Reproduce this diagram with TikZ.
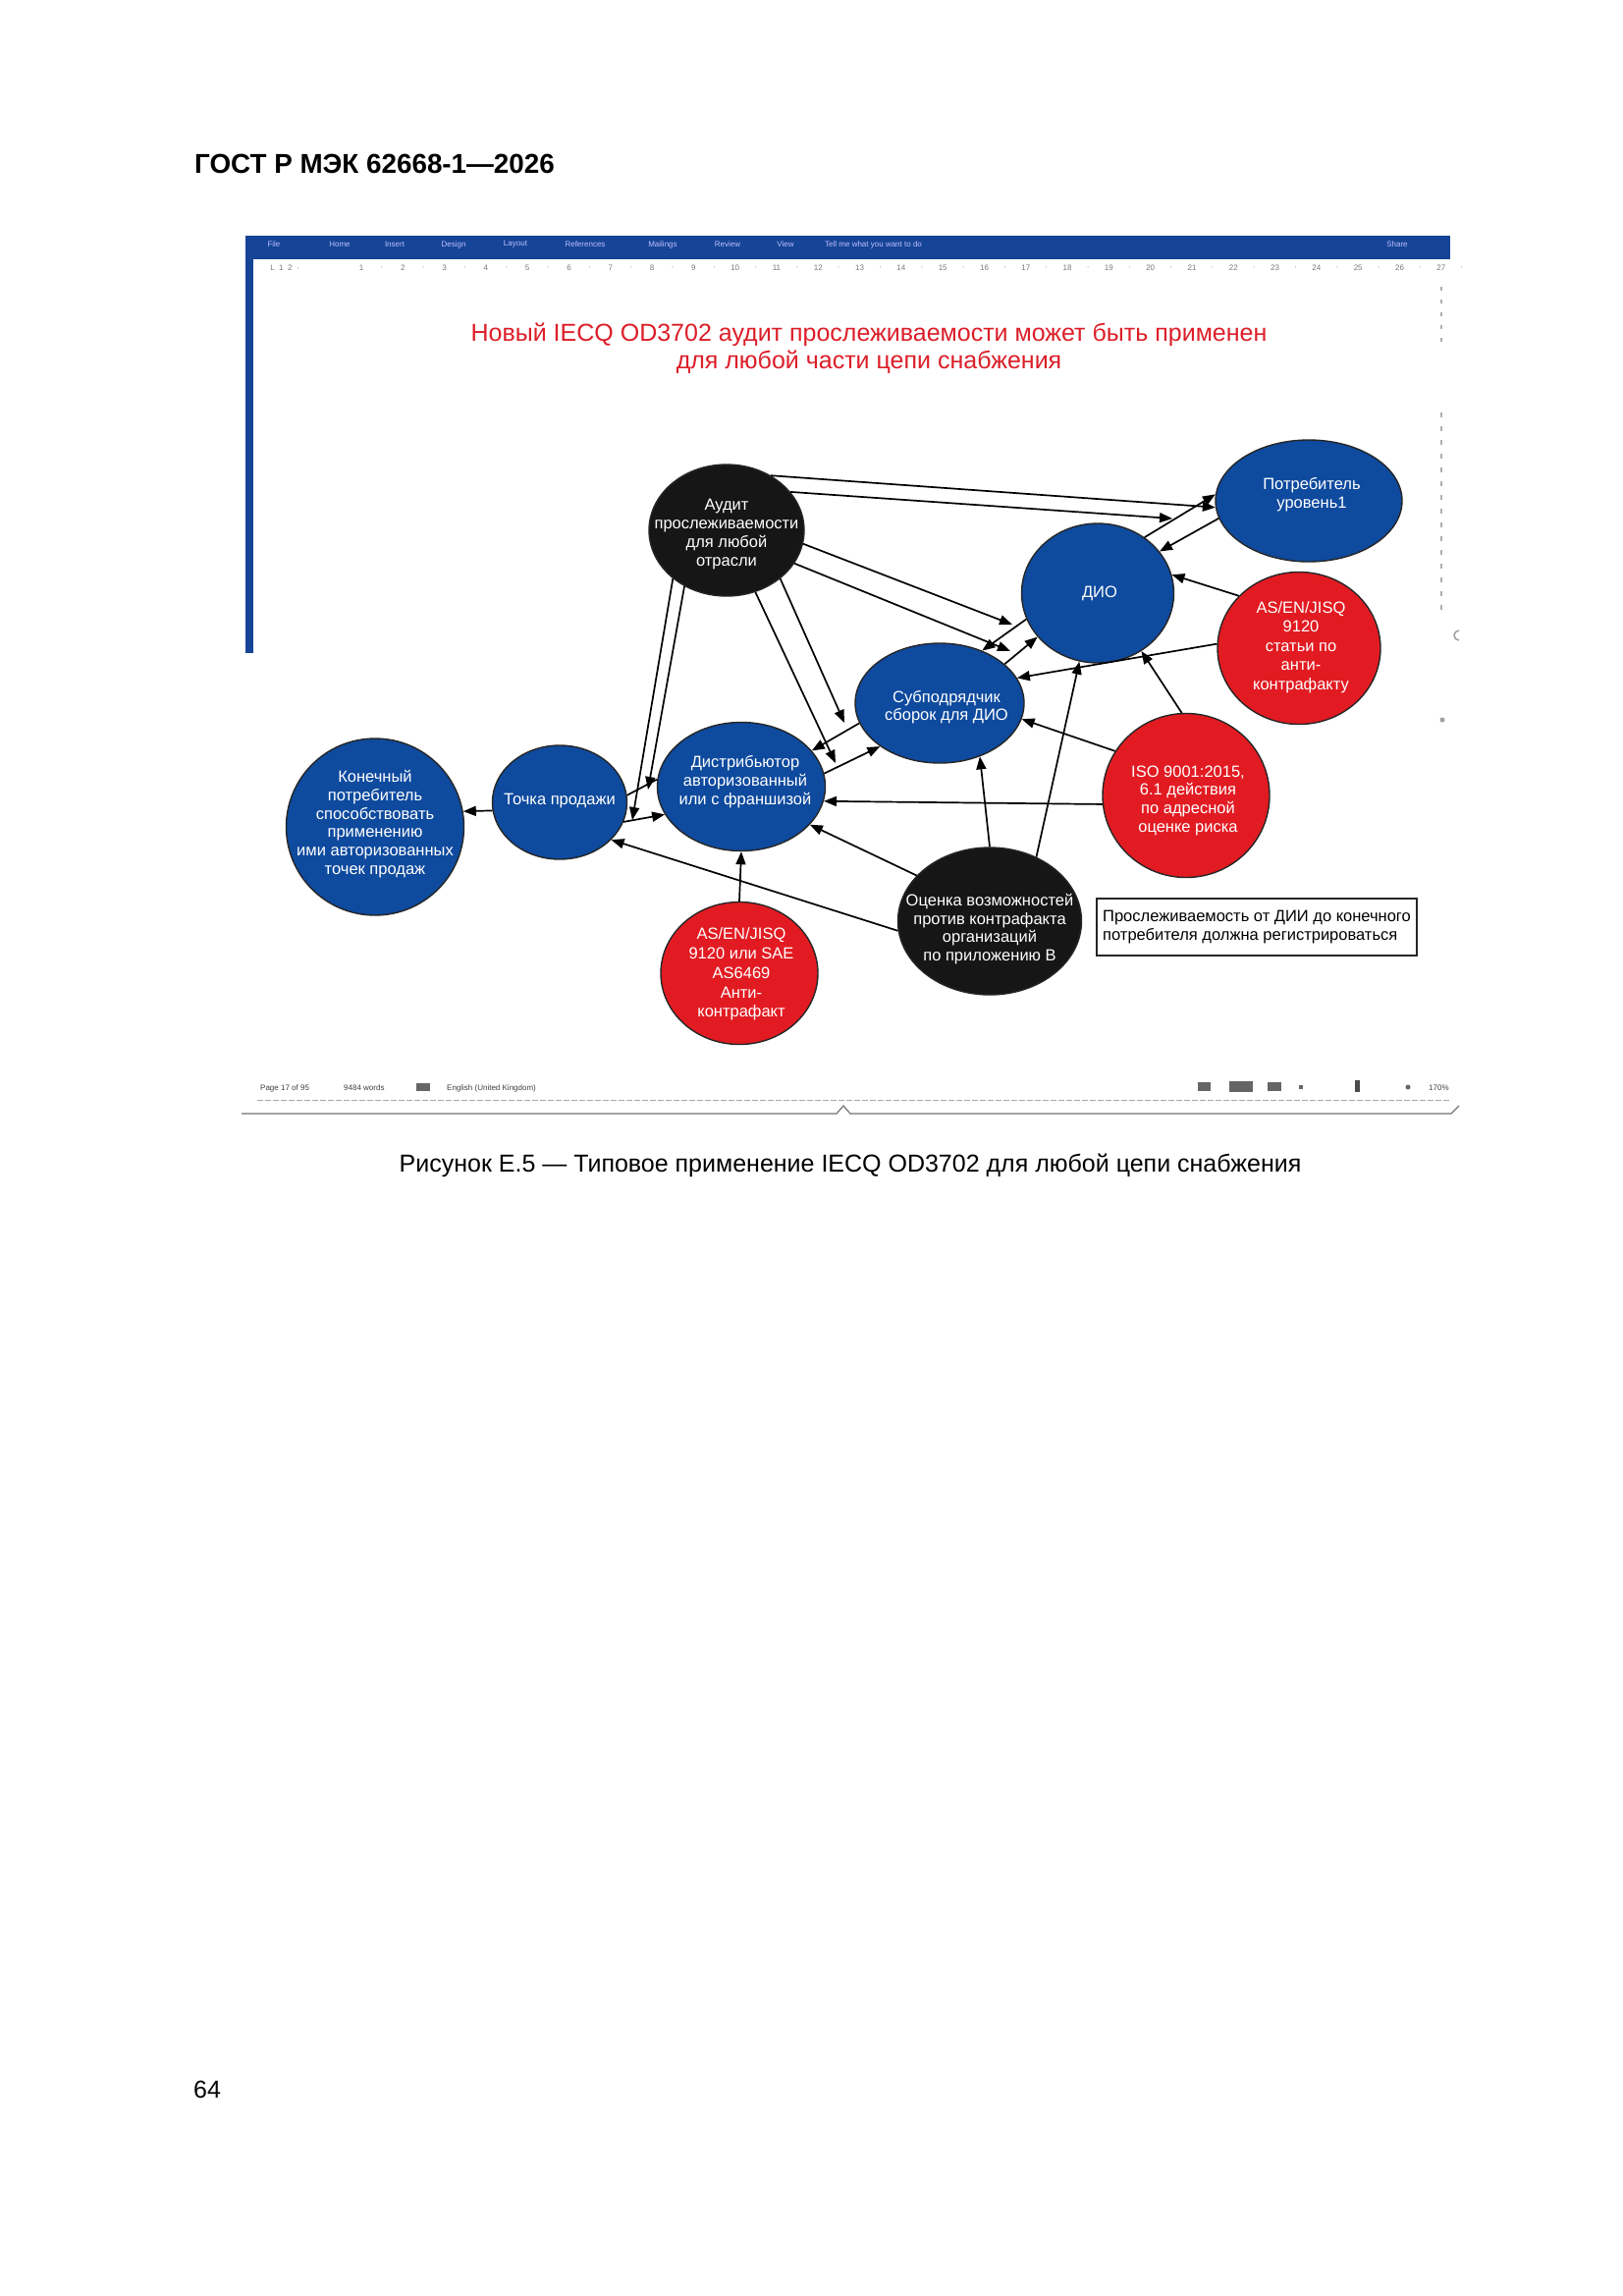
\documentclass[tikz,border=0pt]{standalone}
\usepackage{fontspec}
\setmainfont{Liberation Sans}
\usetikzlibrary{shapes.geometric,arrows.meta}
\definecolor{nodeblue}{RGB}{14,74,158}
\definecolor{nodered}{RGB}{226,27,34}
\definecolor{nodeblack}{RGB}{22,22,22}
\definecolor{titlered}{RGB}{220,30,40}
\definecolor{wordblue}{RGB}{22,68,150}
\definecolor{rulgray}{RGB}{120,120,120}
\tikzset{
  bubble/.style={ellipse, draw=black!85, line width=1.4pt, inner sep=0pt},
  bluenode/.style={bubble, fill=nodeblue},
  rednode/.style={bubble, fill=nodered},
  blacknode/.style={bubble, fill=nodeblack},
  lbl/.style={text=white, align=center, inner sep=0pt, font=\fontsize{16.5}{18.7}\selectfont},
  conn/.style={line width=1.7pt, -{Triangle[length=13pt,width=10pt]}},
  plainconn/.style={line width=1.7pt},
  menu/.style={text=blue!25!white, inner sep=0pt, font=\fontsize{8}{9}\selectfont},
  rul/.style={text=rulgray, inner sep=0pt, font=\fontsize{8}{9}\selectfont},
  stat/.style={text=black!75, inner sep=0pt, anchor=base west, font=\fontsize{8}{9}\selectfont},
}
\begin{document}
\begin{tikzpicture}[x=1pt,y=-1pt]
\useasboundingbox (0,0) rectangle (1653,2338);
\fill[white] (0,0) rectangle (1653,2338);

% page header, caption, page number
\node[anchor=base west, inner sep=0pt, font=\bfseries\fontsize{27.8}{32}\selectfont] (hdr) at (198,176) {ГОСТ Р МЭК 62668-1—2026};
\node[anchor=base, inner sep=0pt, font=\fontsize{25}{30}\selectfont] (caption) at (866,1193) {Рисунок Е.5 — Типовое применение IECQ OD3702 для любой цепи снабжения};
\node[anchor=base west, inner sep=0pt, font=\fontsize{25}{30}\selectfont] (pagenum) at (197,2136) {64};

% Word window frame
\fill[wordblue] (250,240) rectangle (1477,264);
\fill[wordblue] (250,240) rectangle (258,665);
\node[menu] (m1) at (279,249) {File};
\node[menu] (m2) at (346,249) {Home};
\node[menu] (m3) at (402,249) {Insert};
\node[menu] (m4) at (462,249) {Design};
\node[menu] (m5) at (525,249) {Layout};
\node[menu] (m6) at (596,249) {References};
\node[menu] (m7) at (675,249) {Mailings};
\node[menu] (m8) at (741,249) {Review};
\node[menu] (m9) at (800,249) {View};
\node[menu, anchor=west] (m10) at (840,249) {Tell me what you want to do};
\node[menu] (m11) at (1423,249) {Share};
\node[rul] (r0) at (290,273) {L \ 1 \ 2 \ ·};
\foreach \k in {1,...,27} {
  \node[rul] (r\k) at ({368+42.3*(\k-1)},273) {\k};
  \node[rul] (d\k) at ({368+42.3*(\k-1)+21},273) {·};
}
\draw[rulgray!60, line width=2pt, dash pattern=on 4pt off 9pt] (1468,292) -- (1468,352);
\draw[rulgray!60, line width=2pt, dash pattern=on 5pt off 9pt] (1468,420) -- (1468,622);
\draw[rulgray!70, line width=1.5pt] (1486,652) arc[start angle=90, end angle=270, radius=5];
\fill[rulgray!70] (1469,733) circle (2.5);

% status bar
\node[stat] (s1) at (265,1110) {Page 17 of 95};
\node[stat] (s2) at (350,1110) {9484 words};
\node[stat] (s3) at (455,1110) {English (United Kingdom)};
\fill[black!60] (424,1103) rectangle (438,1111);
\fill[black!60] (1220,1102) rectangle (1233,1111);
\fill[black!60] (1252,1101) rectangle (1276,1112);
\fill[black!60] (1291,1102) rectangle (1305,1111);
\fill[black!60] (1323,1105) rectangle (1327,1109);
\fill[black!70] (1380,1100) rectangle (1385,1112);
\fill[black!60] (1434,1107) circle (2.5);
\node[stat] (s4) at (1455,1110) {170\%};
\draw[black!35, line width=0.8pt, dash pattern=on 6pt off 2pt] (262,1120) -- (1478,1120);
\draw[black!55, line width=1.2pt] (246,1134) -- (852,1134) -- (859,1126) -- (866,1134) -- (1478,1134) -- (1486,1126);

% title
\node[text=titlered, inner sep=0pt, anchor=base, font=\fontsize{25}{28}\selectfont] (title1) at (885,347.5) {Новый IECQ OD3702 аудит прослеживаемости может быть применен};
\node[text=titlered, inner sep=0pt, anchor=base, font=\fontsize{25}{28}\selectfont] (title2) at (885,375.5) {для любой части цепи снабжения};

% bubbles
\node[blacknode, minimum width=158pt, minimum height=134pt] (audit) at (740,540) {};
\node[bluenode, minimum width=190pt, minimum height=124pt] (potr) at (1333,510) {};
\node[bluenode, minimum width=155pt, minimum height=142pt] (dio) at (1118,604) {};
\node[rednode, minimum width=166pt, minimum height=155pt] (asr) at (1323,660) {};
\node[bluenode, minimum width=172pt, minimum height=122pt] (sub) at (957,716) {};
\node[rednode, minimum width=170pt, minimum height=167pt] (iso) at (1208,810) {};
\node[bluenode, minimum width=171pt, minimum height=131pt] (dist) at (755,801) {};
\node[bluenode, minimum width=137pt, minimum height=116pt] (tochka) at (570,817) {};
\node[bluenode, minimum width=181pt, minimum height=180pt] (kon) at (382,842) {};
\node[blacknode, minimum width=187pt, minimum height=150pt] (ocenka) at (1008,938) {};
\node[rednode, minimum width=160pt, minimum height=145pt] (asb) at (753,991) {};

% bubble texts
\node[lbl] (auditT) at (740,544) {Аудит\\прослеживаемости\\для любой\\отрасли};
\node[lbl] (potrT) at (1336,504) {Потребитель\\уровень1};
\node[lbl] (dioT) at (1120,604) {ДИО};
\node[lbl, font=\fontsize{16.5}{19.6}\selectfont] (asrT) at (1325,659) {AS/EN/JISQ\\9120\\статьи по\\анти-\\контрафакту};
\node[lbl] (subT) at (964,720) {Субподрядчик\\сборок для ДИО};
\node[lbl] (isoT) at (1210,815) {ISO 9001:2015,\\6.1 действия\\по адресной\\оценке риска};
\node[lbl] (distT) at (759,796) {Дистрибьютор\\авторизованный\\или с франшизой};
\node[lbl] (tochkaT) at (570,816) {Точка продажи};
\node[lbl] (konT) at (382,839) {Конечный\\потребитель\\способствовать\\применению\\ими авторизованных\\точек продаж};
\node[lbl] (ocenkaT) at (1008,946) {Оценка возможностей\\против контрафакта\\организаций\\по приложению В};
\node[lbl, font=\fontsize{16.5}{19.8}\selectfont] (asbT) at (755,992) {AS/EN/JISQ\\9120 или SAE\\AS6469\\Анти-\\контрафакт};

% note box
\node[draw=black!85, line width=1.3pt, minimum width=326pt, minimum height=58pt, inner sep=4pt, align=left, font=\fontsize{16.5}{18.7}\selectfont] (note) at (1280,944) {Прослеживаемость от ДИИ до конечного\\потребителя должна регистрироваться};

% free ends of audit arrows (they point at links)
\coordinate (ca2) at (1194,528);
\coordinate (ca3) at (1031,636);
\coordinate (ca7) at (1029,663);
\coordinate (ca8) at (860,736);
\coordinate (ca6) at (851,777);
\coordinate (ca5) at (660,804);
\coordinate (ca4) at (644,835);

% connectors from audit
\draw[conn] (audit.51) -- (potr.184);
\draw[conn] (audit.31) -- (ca2);
\draw[conn] (audit.-10) -- (ca3);
\draw[conn] (audit.-26) -- (ca7);
\draw[conn] (audit.-42) -- (ca8);
\draw[conn] (audit.-65) -- (ca6);
\draw[conn] (audit.-127) -- (ca5);
\draw[conn] (audit.-138) -- (ca4);

% other connectors
\draw[conn] (dio.50) -- (potr.176);
\draw[conn] (potr.191) -- (dio.34);
\draw[conn] (dio.200) -- (sub.51);
\draw[conn] (sub.31) -- (dio.216);
\draw[conn] (asr.139) -- (dio.14);
\draw[conn] (asr.177) -- (sub.18);
\draw[conn] (iso.93) -- (dio.-53);
\draw[conn] (iso.148) -- (sub.-11);
\draw[conn] (iso.186) -- (dist.-10);
\draw[conn] (ocenka.90) -- (sub.-53);
\draw[conn] (ocenka.54) -- (dio.-105);
\draw[conn] (ocenka.148) -- (dist.-29);
\draw[conn] (ocenka.186) -- (tochka.-36);
\draw[conn] (asb.90) -- (dist.-90);
\draw[conn] (tochka.-17) -- (dist.200);
\draw[plainconn] (tochka.6) -- (dist.175);
\draw[conn] (sub.194) -- (dist.27);
\draw[conn] (dist.9) -- (sub.216);
\draw[conn] (tochka.187) -- (kon.10);
\end{tikzpicture}
\end{document}
